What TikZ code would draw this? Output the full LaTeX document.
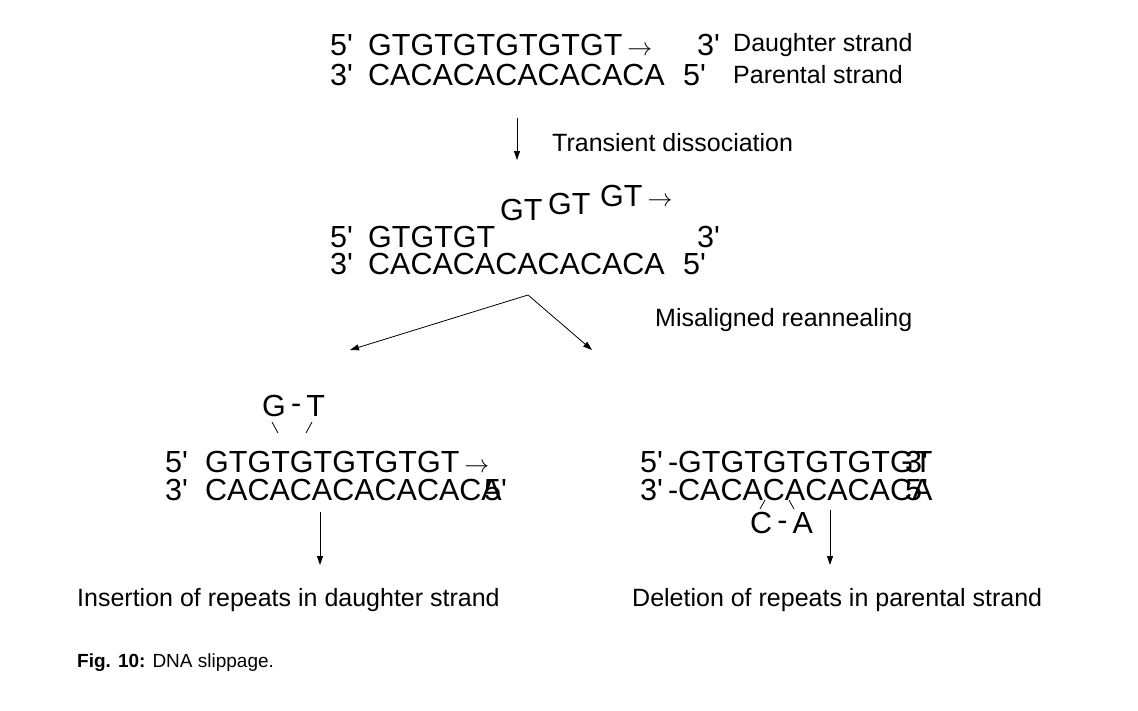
\documentclass[tikz,border=0pt]{standalone}
\usepackage{fontspec}
\setmainfont{Liberation Sans}
\usetikzlibrary{arrows.meta,positioning}
\newcommand{\pr}{\textquotesingle}
\tikzset{
    strand/.style={
    anchor=west,inner sep=0pt,font=\fontsize{30.5}{30.5}\selectfont
    },
    label/.style={
    anchor=west,inner sep=0pt,font=\fontsize{25}{25}\selectfont
    },
    pass/.style={
    -{Triangle[length=9pt,width=6pt]},line width=0.8pt
    },
    link/.style={
    line width=0.8pt
    },
}
\begin{document}
\begin{tikzpicture}[x=1pt,y=-1pt]
   \useasboundingbox (0,0) rectangle (1138,710);

   % first duplex
   \node[strand] (a5)  at (330,45) {5\pr};
   \node[strand] (ad)  at (368,45) {GTGTGTGTGTGT\,$\rightarrow$};
   \node[strand] (a3)  at (697,45) {3\pr};
   \node[label]  (dau) at (733,45) {Daughter strand};
   \node[strand] (b3)  at (330,75) {3\pr};
   \node[strand] (bp)  at (368,75) {CACACACACACACA};
   \node[strand] (b5)  at (683,75) {5\pr};
   \node[label]  (par) at (733,75) {Parental strand};

   \coordinate (t0) at (517,118);
   \coordinate (t1) at (517,160);
   \node[label]  (tra) at (552,143) {Transient dissociation};

   % dissociated duplex
   \node[strand] (g1)  at (500,210) {GT};
   \node[strand] (g2)  at (548,204) {GT};
   \node[strand] (g3)  at (600,196) {GT\,$\rightarrow$};
   \node[strand] (c5)  at (330,237) {5\pr};
   \node[strand] (cd)  at (368,237) {GTGTGT};
   \node[strand] (c3)  at (697,237) {3\pr};
   \node[strand] (d3)  at (330,264) {3\pr};
   \node[strand] (dp)  at (368,264) {CACACACACACACA};
   \node[strand] (d5)  at (683,264) {5\pr};

   \coordinate (m0) at (528,295);
   \coordinate (ml) at (350,350);
   \coordinate (mr) at (592,350);
   \node[label]  (mis) at (655,320) {Misaligned reannealing};

   % insertion
   \node[strand] (gt)  at (262,406) {G\,\raisebox{3pt}{-}\,T};
   \node[strand] (e5)  at (165,462) {5\pr};
   \node[strand] (ed)  at (205,462) {GTGTGTGTGTGT\,$\rightarrow$};
   \node[strand] (f3)  at (165,490) {3\pr};
   \node[strand] (fp)  at (205,490) {CACACACACACACA};
   \node[strand] (f5)  at (484,490) {5\pr};
   \coordinate (l0) at (320,512);
   \coordinate (l1) at (320,565);
   \node[label]  (ins) at (77,600) {Insertion of repeats in daughter strand};

   % deletion
   \node[strand] (h5)  at (640,462) {5\pr\,-GTGTGTGTGTGT};
   \node[strand] (h3)  at (905,462) {3\pr};
   \node[strand] (i3)  at (640,490) {3\pr\,-CACACACACACA};
   \node[strand] (i5)  at (905,490) {5\pr};
   \node[strand] (ca)  at (750,523) {C\,\raisebox{3pt}{-}\,A};
   \coordinate (r0) at (830,510);
   \coordinate (r1) at (830,565);
   \node[label]  (del) at (632,600) {Deletion of repeats in parental strand};

   \node[anchor=west,inner sep=0pt,font=\fontsize{19}{19}\selectfont] (fig) at (77,663) {\textbf{Fig. 10:} DNA slippage.};

  \draw[pass] (t0) -- (t1);
  \draw[pass] (m0) -- (ml);
  \draw[pass] (m0) -- (mr);
  \draw[pass] (l0) -- (l1);
  \draw[pass] (r0) -- (r1);
  \draw[link] (272,422) -- (278,433);
  \draw[link] (312,422) -- (306,433);
  \draw[link] (765,500) -- (760,509);
  \draw[link] (789,500) -- (794,509);
\end{tikzpicture}
\end{document}
